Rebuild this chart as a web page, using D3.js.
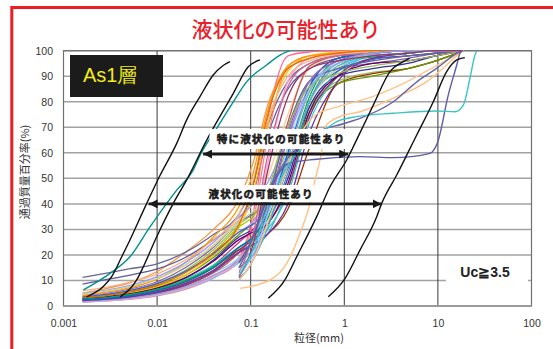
<!DOCTYPE html>
<html>
<head>
<meta charset="utf-8">
<script src="https://cdn.jsdelivr.net/npm/d3@7"></script>
<style>
  html, body { margin: 0; padding: 0; background: #fff; }
  svg { display: block; }
</style>
</head>
<body>
<svg id="chart" width="553" height="349"></svg>
<script>
// ---- axis ticks ----
const xTicks = [0.001, 0.01, 0.1, 1, 10, 100];
const xTickLabels = ["0.001", "0.01", "0.1", "1", "10", "100"];
const yTicks = [0, 10, 20, 30, 40, 50, 60, 70, 80, 90, 100];

// ---- grain sizes (mm) shared by the sample curves ----
const sieveSizes = [0.0016, 0.003, 0.005, 0.01, 0.02, 0.04, 0.075, 0.106, 0.15, 0.25, 0.425, 0.85, 2, 4.75, 9.5, 19];

// ---- percent passing for each sample (null = not tested) ----
const sampleColors = [
  "#F79646", "#666699", "#5A5A9C", "#FF6699", "#9BBB59", "#993300", "#333399", "#8064A2",
  "#4BACC6", "#99CCFF", "#FF8080", "#CC3399", "#669900", "#FFCC99", "#33CCCC", "#CC99FF",
  "#4F81BD", "#C0504D", "#FFC000", "#FF9900", "#66CCFF", "#993366", "#99CC00", "#9999FF",
  "#FF99CC", "#660066", "#3366CC", "#00B050", "#8EA9DB", "#F4B183", "#7030A0", "#C4D79B",
  "#E26B0A", "#0070C0", "#666699", "#9966CC", "#99CCFF", "#CC6699", "#4BACC6", "#9BBB59",
  "#8EA9DB", "#993366"
];
const samplePassing = [
  [5, 7, 9, 13.5, 21, 30, 42, 56, 78, 93, 97, 99, 100, 100, 100, 100],
  [11.2, 13, 14.5, 16.5, 21, 28, 36, 48, 70, 88, 95, 98, 99, 100, 100, 100],
  [8.6, 10.5, 12, 14.5, 19, 26, 34, 44, 66, 85, 93, 97, 99, 100, 100, 100],
  [2, 2.6, 3.3, 4.8, 7.5, 12, 19, 36, 72, 98, 99.5, 100, 100, 100, 100, 100],
  [3.5, 4.5, 6, 9, 14, 22, 32, 36, 42, 56, 78, 88, 91.5, 93, 96, 100],
  [2.5, 3.2, 4, 6, 9.5, 15, 22, 24, 28, 38, 62, 87, 91, 93, 96, 100],
  [3, 3.8, 4.8, 7, 11, 18, 27, 30, 34, 50, 78, 90, 93, 95, 98, 100],
  [4, 5, 6.5, 9.5, 15, 23, 33, 36, 40, 68, 88, 93, 95, 97, 99, 100],
  [1.8, 2.3, 3, 4.5, 7, 11, 17, 22, 28, 46, 74, 92, 98, 99, 100, 100],
  [2.2, 2.8, 3.6, 5.5, 8.5, 13, 19, 26, 38, 60, 84, 96, 99, 100, 100, 100],
  [1.5, 2, 2.6, 4, 6.5, 11, 18, 33, 65, 94, 98, 99, 100, 100, 100, 100],
  [2.6, 3.3, 4.2, 6.2, 10, 16, 25, 30, 38, 58, 86, 97, 99, 100, 100, 100],
  [3.2, 4.1, 5.3, 7.8, 12, 19, 28, 33, 42, 55, 76, 87, 90, 93, 96, 100],
  [4.5, 5.8, 7.3, 10.5, 16, 24, 34, 40, 50, 75, 93, 98, 100, 100, 100, 100],
  [2.8, 3.5, 4.5, 6.8, 10.5, 16, 23, 26, 30, 44, 72, 90, 98, 99, 100, 100],
  [3.8, 4.8, 6.2, 9, 13.5, 20, 29, 33, 42, 60, 84, 95, 99, 100, 100, 100],
  [2.4, 3, 3.9, 5.8, 9, 14, 21, 25, 32, 52, 80, 95, 98, 99, 100, 100],
  [2, 2.5, 3.3, 5, 8, 13, 21, 28, 40, 72, 94, 98, 99, 100, 100, 100],
  [3, 3.9, 5, 7.5, 12, 20, 31, 44, 70, 92, 98, 99.5, 100, 100, 100, 100],
  [4.2, 5.5, 7, 10.5, 17, 27, 39, 52, 76, 94, 98, 99, 100, 100, 100, 100],
  [1.6, 2.1, 2.8, 4.2, 6.8, 11, 17, 22, 34, 55, 80, 93, 98, 99, 100, 100],
  [2.3, 2.9, 3.7, 5.5, 8.8, 14, 22, 26, 32, 46, 74, 90, 97, 98, 99, 100],
  [3.4, 4.4, 5.8, 8.6, 13.5, 21, 31, 35, 44, 62, 84, 96, 98, 99, 100, 100],
  [5, 6.3, 8, 11.5, 17, 25, 35, 40, 48, 66, 86, 95, 98.5, 99, 100, 100],
  [1.7, 2.2, 2.9, 4.4, 7, 11.5, 18, 28, 55, 88, 97, 99, 100, 100, 100, 100],
  [2.9, 3.7, 4.7, 7, 11, 17.5, 26, 29, 32, 48, 76, 90, 95, 96, 98, 100],
  [3.6, 4.6, 6, 8.8, 13.5, 20.5, 29, 32, 38, 54, 80, 92, 96.5, 98, 99, 100],
  [2.7, 3.4, 4.4, 6.5, 10, 15.5, 23, 27, 34, 55, 82, 96, 97.5, 99, 100, 100],
  [1.9, 2.4, 3.1, 4.7, 7.5, 12, 18, 25, 42, 70, 88, 96, 99, 100, 100, 100],
  [6, 7.5, 9.3, 12.5, 18, 26, 36, 49, 72, 90, 96, 98.5, 99.5, 100, 100, 100],
  [2.1, 2.7, 3.5, 5.2, 8.3, 13.5, 21, 24, 28, 40, 68, 88, 97, 99, 100, 100],
  [4.8, 6, 7.6, 10.8, 16, 23.5, 33, 37, 42, 56, 80, 93, 99, 100, 100, 100],
  [3.3, 4.2, 5.5, 8.2, 13, 21, 32, 47, 74, 93, 97, 99, 100, 100, 100, 100],
  [2.5, 3.1, 4, 6, 9.5, 15, 23, 27, 36, 60, 86, 97, 99, 100, 100, 100],
  [null, null, null, null, null, null, 15, 22, 40, 70, 88, 93, 96, 98, 99, 100],
  [null, null, null, null, null, null, 11, 18, 36, 66, 88, 96, 99, 100, 100, 100],
  [null, null, null, null, null, null, 12, 20, 35, 62, 85, 95, 98, 99, 100, 100],
  [null, null, null, null, null, null, 13, 28, 58, 86, 95, 98, 99, 100, 100, 100],
  [null, null, null, null, null, null, 10, 18, 30, 55, 80, 94, 98, 99, 100, 100],
  [null, null, null, null, null, null, 17, 26, 44, 70, 86, 91, 94, 96, 98, 100],
  [null, null, null, null, null, null, 14, 20, 32, 58, 84, 95, 99, 100, 100, 100],
  [null, null, null, null, null, null, 11.5, 24, 52, 82, 93, 96, 98, 99, 100, 100]
];

// ---- samples with their own measured sizes: [mm, % passing] ----
const tealSample = [[0.00163, 6.3], [0.00314, 12.8], [0.00513, 19.3], [0.0084, 31], [0.0162, 45.4], [0.0244, 53.3],
  [0.0287, 59], [0.0433, 69.6], [0.0652, 80], [0.0908, 87.9], [0.148, 94.4], [0.2056, 98.3], [0.263, 100]];
const aquaSample = [[0.075, 12], [0.106, 22], [0.15, 38], [0.25, 55], [0.35, 62], [0.467, 65.7], [0.65, 69.6],
  [0.83, 72.2], [1.35, 74.2], [3.34, 75.5], [9.7, 76.4], [15.2, 76.1], [18.7, 78.7], [22, 89.2], [24.9, 98.3], [26, 100]];
const slateLowSample = [[0.075, 17], [0.106, 27], [0.15, 42], [0.2, 52], [0.26, 56], [0.5, 57.5], [1.47, 58.5],
  [3.34, 58.1], [8.24, 59.8], [10, 64.4], [12.9, 82.6], [15.9, 94.4], [17.2, 99], [17.9, 100]];
const slateMidSample = [[0.075, 15], [0.106, 27], [0.15, 44], [0.25, 58], [0.34, 63], [0.5, 67.8], [1.0, 71.5],
  [1.47, 73.5], [3.34, 80], [6, 87.9], [9.7, 93.1], [17.2, 99.6], [18.7, 100]];
const peachSample = [[0.0769, 6.9], [0.161, 10.2], [0.243, 16.7], [0.336, 28.5], [0.43, 40.2], [0.487, 49.4],
  [0.551, 57.2], [0.65, 71], [0.9, 74.2], [1.47, 76.1], [3.34, 81.4], [7.59, 87.9], [12.4, 94.4], [17.2, 99], [18.7, 100]];
const peachSample2 = [[0.075, 10], [0.106, 18], [0.15, 32], [0.25, 55], [0.35, 68], [0.5, 75], [0.85, 78],
  [2, 82], [4.75, 88], [9.5, 94], [19, 100]];

// ---- boundary grading curves ----
const boundHighLeft = [[0.00177, 3.6], [0.00266, 7.6], [0.00327, 11.5], [0.00419, 19.3], [0.00473, 23.2],
  [0.00775, 40.2], [0.0107, 51], [0.0162, 63.7], [0.0207, 72.9], [0.0287, 82], [0.0398, 90.5], [0.05, 94], [0.06, 95.7]];
const boundLeft = [[0.00402, 3.6], [0.00605, 10.2], [0.00713, 15.4], [0.0099, 27.1], [0.0149, 40.2],
  [0.0207, 49.4], [0.0339, 65], [0.0652, 83.3], [0.0942, 93.7], [0.1256, 96.4]];
const boundHighRight = [[0.154, 3.0], [0.232, 10.2], [0.31, 19.3], [0.507, 35], [0.703, 46.7], [1.06, 57.2],
  [1.47, 67.8], [2.04, 78.7], [3.08, 91.8], [4.27, 95.7], [5.0, 97]];
const boundRight = [[0.675, 3.6], [1.02, 10.8], [1.47, 21.9], [2.22, 35], [2.51, 40.2], [3.63, 51.3],
  [5.94, 67], [8.93, 80], [12.4, 91.8], [15.9, 96.4], [19.4, 97.3]];

// ---- range arrows: [from mm, to mm, % level] ----
const rangeHigh = [0.031, 1.1, 59.5];
const rangeAll = [0.0081, 2.5, 40];

const svg = d3.select("#chart");
const W = 553, H = 349;
const sansJP = "'Noto Sans CJK JP', 'Noto Sans', sans-serif";
const sansNum = "'Liberation Sans', Arial, sans-serif";

const x = d3.scaleLog().domain([0.001, 100]).range([63.5, 531.5]);
const y = d3.scaleLinear().domain([0, 100]).range([306, 50.7]);
const [x0, x1] = x.range();
const [y0, y1] = y.range();

// red frame
svg.append("path")
  .attr("d", `M11.8,${H} V7.5 H${W}`)
  .attr("fill", "none").attr("stroke", "#EE1C25").attr("stroke-width", 3);

// title
svg.append("text")
  .attr("x", 286).attr("y", 37)
  .attr("text-anchor", "middle")
  .attr("font-family", sansJP).attr("font-size", 21).attr("font-weight", 500)
  .attr("fill", "#E8202A")
  .text("液状化の可能性あり");

// horizontal grid
svg.append("g").selectAll("line").data(yTicks).join("line")
  .attr("x1", x0).attr("x2", x1)
  .attr("y1", d => y(d)).attr("y2", d => y(d))
  .attr("stroke", "#A2A2A2").attr("stroke-width", 1.5);

// decade lines
svg.append("g").selectAll("line").data(xTicks.slice(1, -1)).join("line")
  .attr("x1", d => x(d)).attr("x2", d => x(d))
  .attr("y1", y1).attr("y2", y0)
  .attr("stroke", "#3A3A3A").attr("stroke-width", 1);

// plot frame
svg.append("rect")
  .attr("x", x0).attr("y", y1).attr("width", x1 - x0).attr("height", y0 - y1)
  .attr("fill", "none").attr("stroke", "#707070").attr("stroke-width", 1.2);
svg.append("line").attr("x1", x0).attr("x2", x1).attr("y1", y0).attr("y2", y0)
  .attr("stroke", "#9A9A9A").attr("stroke-width", 2);

// axes labels
const xAxis = svg.append("g").attr("transform", `translate(0,${y0})`)
  .call(d3.axisBottom(x).tickValues(xTicks).tickFormat((d, i) => xTickLabels[i]).tickSize(0));
xAxis.select(".domain").remove();
xAxis.selectAll("text").attr("y", 20.5).attr("dy", 0)
  .attr("font-family", sansNum).attr("font-size", 10.5).attr("fill", "#333");

const yAxis = svg.append("g").attr("transform", `translate(${x0},0)`)
  .call(d3.axisLeft(y).tickValues(yTicks).tickSize(0).tickPadding(10.5));
yAxis.select(".domain").remove();
yAxis.selectAll("text")
  .attr("font-family", sansNum).attr("font-size", 10.5).attr("fill", "#333");

svg.append("text")
  .attr("transform", "translate(29,172) rotate(-90)")
  .attr("text-anchor", "middle")
  .attr("font-family", sansJP).attr("font-size", 11).attr("fill", "#333")
  .text("通過質量百分率(%)");

svg.append("text")
  .attr("x", 319).attr("y", 342)
  .attr("text-anchor", "middle")
  .attr("font-family", sansJP).attr("font-size", 11).attr("fill", "#333")
  .text("粒径(mm)");

// curves
svg.append("clipPath").attr("id", "plotClip")
  .append("rect").attr("x", x0).attr("y", y1 - 2).attr("width", x1 - x0).attr("height", y0 - y1 + 2);
const plot = svg.append("g").attr("clip-path", "url(#plotClip)");

const line = d3.line()
  .x(d => x(d[0])).y(d => y(d[1]))
  .curve(d3.curveMonotoneX);

const sampleSeries = samplePassing.map((row, i) => ({
  color: sampleColors[i],
  pts: sieveSizes.map((s, j) => [s, row[j]]).filter(d => d[1] != null)
}));

plot.append("g").selectAll("path").data(sampleSeries).join("path")
  .attr("d", d => line(d.pts))
  .attr("fill", "none").attr("stroke", d => d.color).attr("stroke-width", 1.3);

const specials = [
  { pts: peachSample2, color: "#FFC58A" },
  { pts: peachSample, color: "#FFC080" },
  { pts: slateMidSample, color: "#6464A8" },
  { pts: slateLowSample, color: "#5C5CA5" },
  { pts: aquaSample, color: "#3CC4C4" },
  { pts: tealSample, color: "#00928E" }
];
plot.append("g").selectAll("path").data(specials).join("path")
  .attr("d", d => line(d.pts))
  .attr("fill", "none").attr("stroke", d => d.color).attr("stroke-width", 1.4);

plot.append("g").selectAll("path").data([boundHighLeft, boundLeft, boundHighRight, boundRight]).join("path")
  .attr("d", d => line(d))
  .attr("fill", "none").attr("stroke", "#111").attr("stroke-width", 1.4);

// As1 layer badge
svg.append("rect").attr("x", 70).attr("y", 55).attr("width", 93).attr("height", 42).attr("fill", "#1B1B1B");
svg.append("text").attr("x", 83).attr("y", 82)
  .attr("font-family", sansNum).attr("font-size", 20).attr("fill", "#F3EC19")
  .text("As1層");

// range annotations
const defs = svg.append("defs");
["start", "end"].forEach(k => {
  defs.append("marker")
    .attr("id", "arrow-" + k)
    .attr("viewBox", "0 0 10 10").attr("refX", k === "end" ? 10 : 0).attr("refY", 5)
    .attr("markerUnits", "userSpaceOnUse").attr("markerWidth", 9).attr("markerHeight", 9)
    .attr("orient", "auto")
    .append("path")
    .attr("d", k === "end" ? "M0,0 L10,5 L0,10 Z" : "M10,0 L0,5 L10,10 Z")
    .attr("fill", "#1A1A1A");
});

function rangeLabel(r, label, cx, boxTop, boxH, boxW) {
  svg.append("rect")
    .attr("x", cx - boxW / 2).attr("y", boxTop).attr("width", boxW).attr("height", boxH)
    .attr("fill", "#fff");
  svg.append("text")
    .attr("x", cx + 0.6).attr("y", boxTop + boxH / 2 + 4)
    .attr("text-anchor", "middle")
    .attr("font-family", sansJP).attr("font-size", 10.5).attr("font-weight", "bold")
    .attr("letter-spacing", 1.2)
    .attr("fill", "#1A1A1A").attr("stroke", "#1A1A1A").attr("stroke-width", 0.55)
    .text(label);
  svg.append("line")
    .attr("x1", x(r[0])).attr("x2", x(r[1]))
    .attr("y1", y(r[2])).attr("y2", y(r[2]))
    .attr("stroke", "#1A1A1A").attr("stroke-width", 2.6)
    .attr("marker-start", "url(#arrow-start)").attr("marker-end", "url(#arrow-end)");
}
rangeLabel(rangeHigh, "特に液状化の可能性あり", 280.5, 129, 20, 142);
rangeLabel(rangeAll, "液状化の可能性あり", 260.5, 185, 17, 112);

// uniformity coefficient note
svg.append("rect").attr("x", 446).attr("y", 259).attr("width", 82).attr("height", 32).attr("fill", "#fff");
svg.append("text").attr("x", 485).attr("y", 277)
  .attr("text-anchor", "middle")
  .attr("font-family", sansNum).attr("font-size", 14).attr("font-weight", "bold").attr("fill", "#222")
  .text("Uc≧3.5");
</script>
</body>
</html>
